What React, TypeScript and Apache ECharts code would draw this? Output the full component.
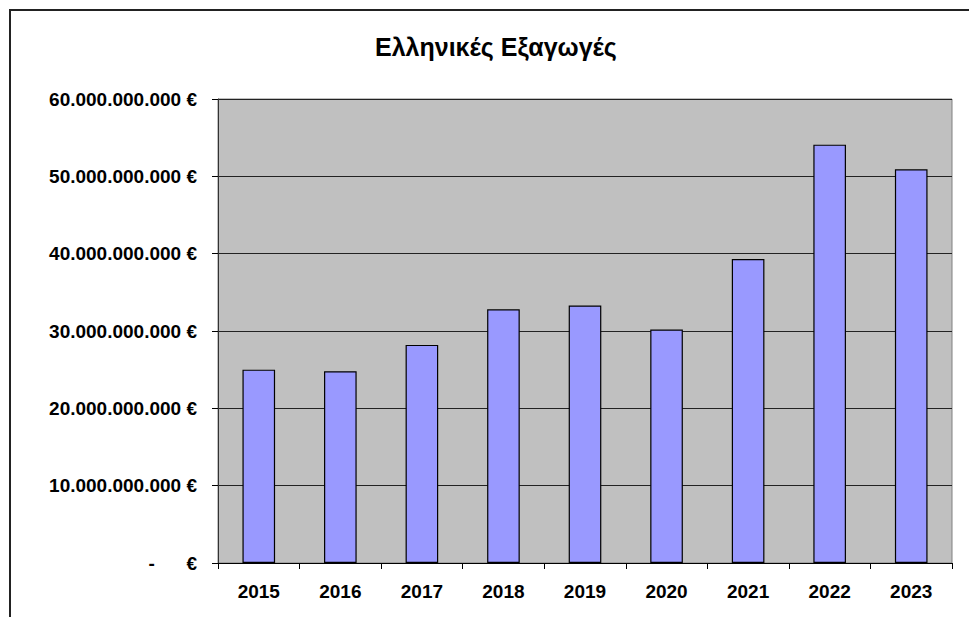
import React, { useEffect, useRef } from "react";
import * as echarts from "echarts";

const years = ["2015", "2016", "2017", "2018", "2019", "2020", "2021", "2022", "2023"];
const exportsEUR = [
  25.0e9, 24.8e9, 28.2e9, 32.8e9, 33.3e9, 30.2e9, 39.3e9, 54.1e9, 50.9e9,
];
const titleText = "Ελληνικές Εξαγωγές";
const yMax = 60e9;
const yStep = 10e9;

function fmt(v: number): string {
  if (v === 0) return "-\u00A0\u00A0\u00A0\u00A0\u00A0\u00A0€";
  const s = String(Math.round(v)).replace(/\B(?=(\d{3})+(?!\d))/g, ".");
  return s + " €";
}

export default function App() {
  const ref = useRef<HTMLDivElement>(null);
  useEffect(() => {
    if (!ref.current) return;
    const chart = echarts.init(ref.current, undefined, { renderer: "svg" });
    const font = "'Liberation Sans', Arial, sans-serif";
    chart.setOption({
      animation: false,
      backgroundColor: "#ffffff",
      title: {
        text: titleText,
        left: 375,
        top: 34,
        padding: 0,
        textStyle: { fontFamily: font, fontWeight: "bold", fontSize: 25, color: "#000" },
      },
      graphic: [
        { type: "line", shape: { x1: 9, y1: 10, x2: 969, y2: 10 }, style: { stroke: "#222", lineWidth: 2 } },
        { type: "line", shape: { x1: 10, y1: 9, x2: 10, y2: 617 }, style: { stroke: "#222", lineWidth: 2 } },
      ],
      grid: {
        left: 218,
        right: 17,
        top: 99,
        bottom: 54,
        show: true,
        backgroundColor: "#C0C0C0",
        borderColor: "#808080",
        borderWidth: 1,
      },
      xAxis: {
        type: "category",
        data: years,
        boundaryGap: true,
        axisLine: { show: true, lineStyle: { color: "#000", width: 1 } },
        axisTick: { show: true, alignWithLabel: false, length: 6, lineStyle: { color: "#000" } },
        axisLabel: {
          margin: 19,
          fontFamily: font,
          fontWeight: "bold",
          fontSize: 19,
          color: "#000",
        },
      },
      yAxis: {
        type: "value",
        min: 0,
        max: yMax,
        interval: yStep,
        axisLine: { show: true, lineStyle: { color: "#333", width: 1 } },
        axisTick: { show: true, length: 6, lineStyle: { color: "#000" } },
        splitLine: { show: true, lineStyle: { color: "#222", width: 1 } },
        axisLabel: {
          margin: 21,
          fontFamily: font,
          fontWeight: "bold",
          fontSize: 19,
          color: "#000",
          formatter: (v: number) => fmt(v),
        },
      },
      series: [
        {
          type: "bar",
          data: exportsEUR,
          barWidth: "40%",
          itemStyle: { color: "#9999FF", borderColor: "#000", borderWidth: 1.2 },
        },
      ],
    });
    return () => chart.dispose();
  }, []);
  return (
    <div
      ref={ref}
      style={{ position: "fixed", left: 0, top: 0, width: 969, height: 617 }}
    />
  );
}
